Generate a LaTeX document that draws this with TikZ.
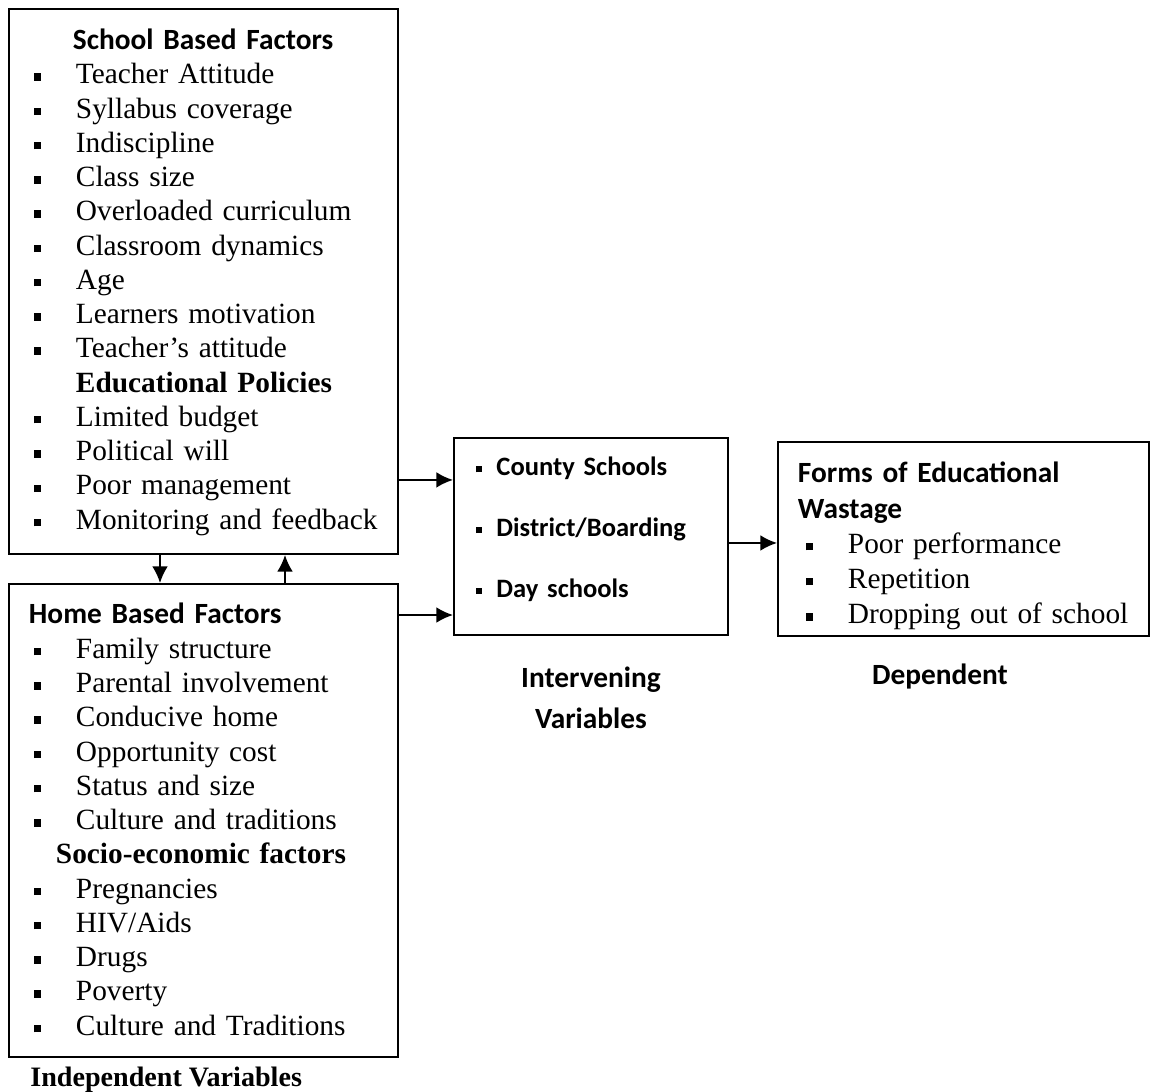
\documentclass[tikz,border=0pt]{standalone}
\usepackage{fontspec}
\setmainfont{Liberation Serif}
\setsansfont{Carlito}
\usetikzlibrary{arrows.meta}

\newcommand{\itm}[1]{\hspace*{0.2cm}\makebox[0.84cm][l]{\rule[0.1em]{0.15cm}{0.15cm}}#1}
\newcommand{\sitm}[1]{\hspace*{0.15cm}\makebox[0.4cm][l]{\rule[0.12em]{0.12cm}{0.12cm}}#1}
\newcommand{\shead}[1]{{\sffamily\bfseries #1}}

\begin{document}
\begin{tikzpicture}[
        box/.style={draw, line width=1.1pt, anchor=north west, align=left, inner xsep=0.3cm, inner ysep=0pt,
            font=\fontsize{16.7}{19.5}\selectfont},
        arr/.style={line width=1.1pt, -{Latex[length=9.5pt,width=9pt]}},
        lab/.style={font=\fontsize{16.7}{23.2}\selectfont\sffamily\bfseries, align=center}
    ]
        \useasboundingbox (0,0) rectangle (23.04,-21.82);
        \begin{scope}
            \node[box, text width=7.18cm, text height=0.81cm, text depth=10.09cm] (school) at (0.16,-0.16) {%
                \hspace*{0.98cm}\shead{School Based Factors}\\
                \itm{Teacher Attitude}\\
                \itm{Syllabus coverage}\\
                \itm{Indiscipline}\\
                \itm{Class size}\\
                \itm{Overloaded curriculum}\\
                \itm{Classroom dynamics}\\
                \itm{Age}\\
                \itm{Learners motivation}\\
                \itm{Teacher’s attitude}\\
                \hspace*{1.04cm}\textbf{Educational Policies}\\
                \itm{Limited budget}\\
                \itm{Political will}\\
                \itm{Poor management}\\
                \itm{Monitoring and feedback}};
            \node[box, text width=7.18cm, text height=0.8cm, text depth=8.66cm] (home) at (0.16,-11.66) {%
                \hspace*{0.1cm}\shead{Home Based Factors}\\
                \itm{Family structure}\\
                \itm{Parental involvement}\\
                \itm{Conducive home}\\
                \itm{Opportunity cost}\\
                \itm{Status and size}\\
                \itm{Culture and traditions}\\
                \hspace*{0.64cm}\textbf{Socio-economic factors}\\
                \itm{Pregnancies}\\
                \itm{HIV/Aids}\\
                \itm{Drugs}\\
                \itm{Poverty}\\
                \itm{Culture and Traditions}};
            \node[font=\fontsize{16}{19.4}\selectfont\bfseries, anchor=west, inner sep=0pt] (indep)
                at ([xshift=0.44cm,yshift=-0.44cm]home.south west) {Independent Variables};
        \end{scope}
        \begin{scope}
            \node[box, text width=4.88cm, text height=0.75cm, text depth=3.19cm,
                font=\fontsize{15.1}{34.6}\selectfont\sffamily\bfseries] (inter) at (9.06,-8.74) {%
                \sitm{County Schools}\\
                \sitm{District/Boarding}\\
                \sitm{Day schools}};
            \node[lab] (interlab) at ([yshift=-1.23cm]inter.south) {Intervening\\Variables};
        \end{scope}
        \begin{scope}
            \node[box, inner xsep=0.36cm, text width=6.7cm, text height=0.82cm, text depth=3.06cm,
                font=\fontsize{16.7}{20}\selectfont] (dep) at (15.54,-8.82) {%
                \hspace*{0.04cm}\shead{Forms of Educational}\\
                \hspace*{0.04cm}\shead{Wastage}\\
                \itm{Poor performance}\\
                \itm{Repetition}\\
                \itm{Dropping out of school}};
            \node[lab] (deplab) at ([xshift=-0.47cm,yshift=-0.8cm]dep.south) {Dependent};
        \end{scope}
        \draw[arr] ([yshift=1.5cm]school.south east) -- ([yshift=1.5cm]school.south east -| inter.west);
        \draw[arr] ([yshift=-0.64cm]home.north east) -- ([yshift=-0.64cm]home.north east -| inter.west);
        \draw[arr] ([yshift=-0.13cm]inter.east) -- ([yshift=-0.13cm]inter.east -| dep.west);
        \draw[arr] ([xshift=3.04cm]school.south west) -- ([xshift=3.04cm]school.south west |- home.north);
        \draw[arr] ([xshift=5.54cm]home.north west) -- ([xshift=5.54cm]home.north west |- school.south);
    \end{tikzpicture}
\end{document}
